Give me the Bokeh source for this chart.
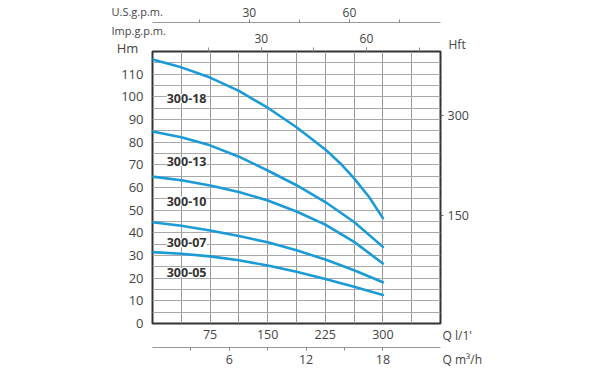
from bokeh.plotting import figure
from bokeh.models import (Range1d, LinearAxis, FixedTicker, Grid, Label,
                          LabelSet, ColumnDataSource)
from bokeh.core.properties import value
from bokeh.embed import file_html
from bokeh.resources import INLINE

FONT = "Open Sans"
TXT = "#444444"
BLUE = "#1a9ad6"
W, H = 600, 375

# ---- data (flow in l/min, head in m) ----
q_18 = [0, 37.5, 75, 112.5, 150, 187.5, 225, 245, 262.5, 282, 300]
h_300_18 = [116.5, 113, 108.5, 102.6, 95.2, 86.6, 76.8, 70.5, 64, 55.8, 46.5]
q_lmin = [0, 37.5, 75, 112.5, 150, 187.5, 225, 262.5, 300]
h_300_13 = [84.7, 82.2, 78.6, 73.6, 67.5, 61.0, 53.6, 44.8, 33.8]
h_300_10 = [64.8, 63.2, 60.9, 58.0, 54.3, 49.4, 43.6, 36.0, 26.5]
h_300_07 = [44.7, 43.1, 41.0, 38.6, 35.8, 32.3, 28.2, 23.5, 18.2]
h_300_05 = [31.5, 30.8, 29.6, 27.9, 25.6, 22.8, 19.6, 16.2, 12.6]

models = ["300-18", "300-13", "300-10", "300-07", "300-05"]
label_q = [18.5, 18.5, 18.5, 18.5, 18.5]
label_h = [99.3, 71.4, 54.0, 35.6, 22.4]

# ---- tick values ----
lmin_ticks = [75, 150, 225, 300]
m3h_ticks = [6, 12, 18]
m3h_minor = [3, 6, 9, 12, 15, 18]
usgpm_ticks = [30, 60]
usgpm_minor = [15, 30, 45, 60, 75]
impgpm_ticks = [30, 60]
impgpm_minor = [15, 30, 45, 60, 75]
hm_ticks = [0, 10, 20, 30, 40, 50, 60, 70, 80, 90, 100, 110]
hft_ticks = [150, 300]
x_grid = [37.5, 75, 112.5, 150, 187.5, 225, 262.5, 300, 337.5]
y_grid = [5, 10, 15, 20, 25, 30, 35, 40, 45, 50, 55, 60, 65, 70, 75, 80,
          85, 90, 95, 100, 105, 110, 115]

p = figure(width=W, height=H, x_range=Range1d(0, 375), y_range=Range1d(0, 120),
           output_backend="svg", toolbar_location=None,
           min_border_left=152, min_border_right=160, min_border_top=51,
           min_border_bottom=52)
p.background_fill_color = "white"
p.border_fill_color = "white"
p.outline_line_color = "#333333"
p.outline_line_width = 2
p.xgrid.visible = False
p.ygrid.visible = False

p.extra_x_ranges = {"m3h": Range1d(0, 22.5), "us": Range1d(1, 87.3), "imp": Range1d(-1, 81.1)}
p.extra_y_ranges = {"hft": Range1d(-12.5, 396.5)}

# grids
p.add_layout(Grid(dimension=0, ticker=FixedTicker(ticks=x_grid), grid_line_color="#999999",
                  grid_line_width=1))
p.add_layout(Grid(dimension=1, ticker=FixedTicker(ticks=y_grid), grid_line_color="#a8a8a8",
                  grid_line_width=1))


def style_axis(ax, size="12.5px"):
    ax.major_label_text_font = FONT
    ax.major_label_text_font_size = size
    ax.major_label_text_color = TXT
    ax.minor_tick_in = 0
    ax.major_tick_in = 0


def spacer(px, rng, tick):
    # an axis with one invisible tick and an empty label: only reserves px of space
    return LinearAxis(x_range_name=rng, ticker=FixedTicker(ticks=[tick], minor_ticks=[]),
                      axis_line_color=None, major_tick_line_color=None,
                      major_tick_out=px, minor_tick_out=0, major_tick_in=0, minor_tick_in=0,
                      major_label_standoff=0, major_label_text_font_size="0px",
                      major_label_overrides={tick: ""})


# bottom l/min axis
xa = p.xaxis[0]
xa.ticker = FixedTicker(ticks=lmin_ticks)
style_axis(xa)
xa.axis_line_color = None
xa.major_tick_out = 0
xa.minor_tick_out = 0
xa.major_label_standoff = 6

p.add_layout(spacer(6, "default", 187.5), "below")

m3 = LinearAxis(x_range_name="m3h", ticker=FixedTicker(ticks=m3h_ticks, minor_ticks=m3h_minor))
style_axis(m3)
m3.axis_line_color = "#999999"
m3.major_tick_line_color = "#888888"
m3.minor_tick_line_color = "#888888"
m3.major_tick_out = 3
m3.minor_tick_out = 3
m3.major_label_standoff = 4
p.add_layout(m3, "below")

# left Hm axis
ya = p.yaxis[0]
ya.ticker = FixedTicker(ticks=hm_ticks)
style_axis(ya, "13px")
ya.axis_line_color = None
ya.major_tick_out = 0
ya.minor_tick_out = 0
ya.major_label_standoff = 9

# right Hft axis
hft = LinearAxis(y_range_name="hft", ticker=FixedTicker(ticks=hft_ticks))
style_axis(hft)
hft.axis_line_color = None
hft.major_tick_out = 3
hft.minor_tick_out = 0
hft.major_tick_line_color = "#666666"
hft.major_label_standoff = 4
p.add_layout(hft, "right")

# top Imp gpm axis
imp = LinearAxis(x_range_name="imp", ticker=FixedTicker(ticks=impgpm_ticks, minor_ticks=impgpm_minor))
style_axis(imp, "12px")
imp.axis_line_color = None
imp.major_tick_out = 4
imp.minor_tick_out = 4
imp.major_tick_line_color = "#888888"
imp.minor_tick_line_color = "#888888"
imp.major_label_standoff = 5
p.add_layout(imp, "above")

p.add_layout(spacer(8, "imp", 40), "above")

us = LinearAxis(x_range_name="us", ticker=FixedTicker(ticks=usgpm_ticks, minor_ticks=usgpm_minor))
style_axis(us, "12px")
us.axis_line_color = "#999999"
us.major_tick_out = 3
us.minor_tick_out = 3
us.major_tick_line_color = "#888888"
us.minor_tick_line_color = "#888888"
us.major_label_standoff = 3
p.add_layout(us, "above")

# curves
p.line(q_18, h_300_18, line_color=BLUE, line_width=2.6, line_cap="round", line_join="round")
for h in [h_300_13, h_300_10, h_300_07, h_300_05]:
    p.line(q_lmin, h, line_color=BLUE, line_width=2.6, line_cap="round", line_join="round")

src = ColumnDataSource(dict(x=label_q, y=label_h, t=models))
p.add_layout(LabelSet(x="x", y="y", text="t", source=src, text_font=value(FONT),
                      text_font_size="12.5px", text_font_style="bold", text_color="#333333",
                      text_align="left", text_baseline="middle",
                      background_fill_color="white"))


# axis titles: labels placed in the side panels, canvas units (from the top-left corner)
def add_text(side, x, y, t, size="12px", align="left", lh=1.2):
    p.add_layout(Label(x=x, y=y, x_units="canvas", y_units="canvas", text=t,
                       text_font=FONT, text_font_size=size, text_color=TXT,
                       text_align=align, text_baseline="middle", text_line_height=lh),
                 side)


add_text("left", 127, 47, "Hm", "13px", "center")
add_text("left", 111, 20.5, "U.S.g.p.m.\nImp.g.p.m.", "11px", "left", 1.25)
add_text("right", 448, 44, "Hft", "12px")
add_text("right", 442, 347, "Q l/1'\nQ m³/h", "12px", "left", 1.45)

open("out.html", "w").write(file_html(p, INLINE))
